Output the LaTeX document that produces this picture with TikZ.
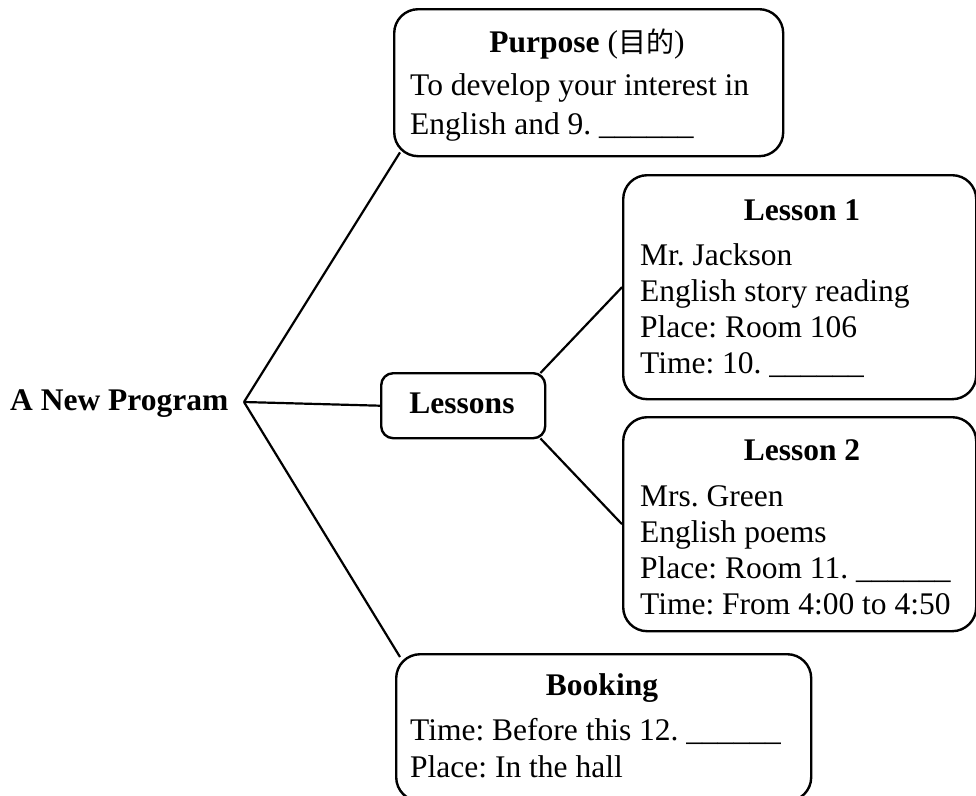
\documentclass[tikz,border=0pt]{standalone}
\usepackage{fontspec}
\setmainfont{Liberation Serif}
\newfontfamily\cjk{Noto Sans CJK SC}
\usetikzlibrary{calc}
\frenchspacing
\begin{document}
\begin{tikzpicture}[x=1pt,y=-1pt,
  box/.style={draw,line width=2.4pt,rounded corners=24pt,anchor=north west,inner sep=0pt,fill=white},
  smallbox/.style={draw,line width=2.4pt,rounded corners=12pt,anchor=north west,inner sep=0pt,fill=white},
  txt/.style={anchor=base west,inner sep=0pt,font=\fontsize{31.5}{36}\selectfont\frenchspacing},
  ttl/.style={anchor=base,inner sep=0pt,font=\fontsize{31.5}{36}\selectfont\frenchspacing},
  conn/.style={line width=2.2pt}]
\useasboundingbox (0,0) rectangle (976,795);
% boxes
\node[box,minimum width=389pt,minimum height=147pt] (purpose) at (393,8) {};
\node[box,minimum width=353pt,minimum height=224pt] (lesson1) at (622,174) {};
\node[box,minimum width=353pt,minimum height=214pt] (lesson2) at (622,416) {};
\node[box,minimum width=415pt,minimum height=147pt] (booking) at (395,653) {};
\node[smallbox,minimum width=164pt,minimum height=65pt] (lessons) at (380,372) {};
% root
\node[txt] (root) at (10,410) {\textbf{A New Program}};
\coordinate (hub) at (244,402);
% purpose texts
\node[ttl] (pt) at (587,52) {\textbf{Purpose} ({\cjk\fontsize{28}{36}\selectfont 目的})};
\node[txt] (p1) at (410,95) {To develop your interest in};
\node[txt] (p2) at (410,134) {English and 9. \_\_\_\_\_\_};
% lessons
\node[ttl] (lt) at (462,413) {\textbf{Lessons}};
% lesson 1
\node[ttl] (l1t) at (802,220) {\textbf{Lesson 1}};
\node[txt] (l1a) at (640,265) {Mr. Jackson};
\node[txt] (l1b) at (640,301) {English story reading};
\node[txt] (l1c) at (640,337) {Place: Room 106};
\node[txt] (l1d) at (640,373) {Time: 10. \_\_\_\_\_\_};
% lesson 2
\node[ttl] (l2t) at (802,460) {\textbf{Lesson 2}};
\node[txt] (l2a) at (640,506) {Mrs. Green};
\node[txt] (l2b) at (640,542) {English poems};
\node[txt] (l2c) at (640,578) {Place: Room 11. \_\_\_\_\_\_};
\node[txt] (l2d) at (640,614) {Time: From 4:00 to 4:50};
% booking
\node[ttl] (bt) at (602,695) {\textbf{Booking}};
\node[txt] (b1) at (410,740) {Time: Before this 12. \_\_\_\_\_\_};
\node[txt] (b2) at (410,777) {Place: In the hall};
% connectors
\draw[conn] (hub) -- ($(purpose.south west)+(7,-5)$);
\draw[conn] (hub) -- (lessons.west);
\draw[conn] (hub) -- ($(booking.north west)+(5,4)$);
\draw[conn] ($(lessons.north east)+(-6,1)$) -- (lesson1.west);
\draw[conn] ($(lessons.south east)+(-6,-1)$) -- (lesson2.west);
\end{tikzpicture}
\end{document}
